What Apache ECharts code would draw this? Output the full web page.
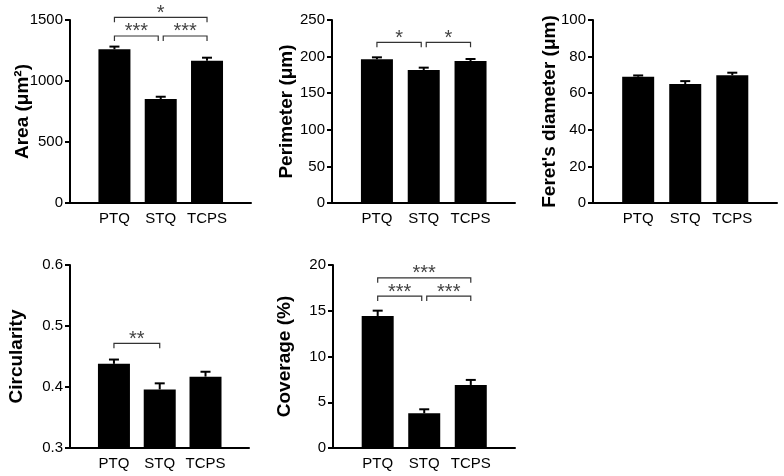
<!DOCTYPE html>
<html><head><meta charset="utf-8">
<script src="https://cdn.jsdelivr.net/npm/echarts@6/dist/echarts.min.js"></script>
<style>html,body{margin:0;padding:0;background:#fff}#c{width:784px;height:476px}</style>
</head><body><div id="c"></div>
<script>
// ---- data ----
const categories = ['PTQ', 'STQ', 'TCPS'];

const areaMean = [1260, 852, 1166];
const areaErr = [22, 19, 25];
const areaTicks = [0, 500, 1000, 1500];
const areaSig = [[1, 3, 1522], [1, 2, 1369], [2, 3, 1369]];
const areaSigLabels = ['*', '***', '***'];

const perimMean = [196.3, 181.7, 194];
const perimErr = [2.7, 3.2, 2.7];
const perimTicks = [0, 50, 100, 150, 200, 250];
const perimSig = [[1, 2, 219.5], [2, 3, 219.5]];
const perimSigLabels = ['*', '*'];

const feretMean = [69, 65, 69.8];
const feretErr = [0.7, 1.6, 1.4];
const feretTicks = [0, 20, 40, 60, 80, 100];
const feretSig = [];
const feretSigLabels = [];

const circMean = [0.438, 0.396, 0.417];
const circErr = [0.007, 0.010, 0.008];
const circTicks = [0.3, 0.4, 0.5, 0.6];
const circSig = [[1, 2, 0.4716]];
const circSigLabels = ['**'];

const covMean = [14.43, 3.79, 6.89];
const covErr = [0.58, 0.44, 0.55];
const covTicks = [0, 5, 10, 15, 20];
const covSig = [[1, 3, 18.6], [1, 2, 16.6], [2, 3, 16.6]];
const covSigLabels = ['***', '***', '***'];

// ---- layout ----
const FONT = '"Liberation Sans", Arial, sans-serif';
const panels = [
  {title: 'Area (μm²)', mean: areaMean, err: areaErr, ticks: areaTicks, sig: areaSig, sigLabels: areaSigLabels, dec: 0,
   grid: {left: 70, top: 20, width: 181, height: 183}, gap: 38},
  {title: 'Perimeter (μm)', mean: perimMean, err: perimErr, ticks: perimTicks, sig: perimSig, sigLabels: perimSigLabels, dec: 0,
   grid: {left: 332, top: 20, width: 183, height: 183}, gap: 36},
  {title: "Feret's diameter (μm)", mean: feretMean, err: feretErr, ticks: feretTicks, sig: feretSig, sigLabels: feretSigLabels, dec: 0,
   grid: {left: 593, top: 20, width: 184, height: 183}, gap: 34},
  {title: 'Circularity', mean: circMean, err: circErr, ticks: circTicks, sig: circSig, sigLabels: circSigLabels, dec: 1,
   grid: {left: 70, top: 265, width: 179, height: 183}, gap: 44},
  {title: 'Coverage (%)', mean: covMean, err: covErr, ticks: covTicks, sig: covSig, sigLabels: covSigLabels, dec: 0,
   grid: {left: 333, top: 265, width: 182, height: 183}, gap: 39}
];

const grids = [], xAxes = [], yAxes = [], series = [];
panels.forEach((p, i) => {
  grids.push(Object.assign({containLabel: false}, p.grid));
  xAxes.push({
    type: 'value', gridIndex: i, min: 0.04, max: 3.95,
    axisLine: {show: true, onZero: false, lineStyle: {color: '#000', width: 2}},
    axisTick: {show: false},
    splitLine: {show: false},
    axisLabel: {
      customValues: categories.map((c, k) => k + 1),
      formatter: v => categories[Math.round(v) - 1] || '',
      color: '#000', fontSize: 15, fontFamily: FONT, margin: 8
    }
  });
  const t = p.ticks;
  yAxes.push({
    type: 'value', gridIndex: i, min: t[0], max: t[t.length - 1], interval: +(t[1] - t[0]).toFixed(6),
    name: p.title, nameLocation: 'middle', nameGap: p.gap, nameRotate: 90, nameMoveOverlap: false,
    nameTextStyle: {fontSize: 19, fontWeight: 'bold', fontFamily: FONT, color: '#000'},
    axisLine: {show: true, lineStyle: {color: '#000', width: 2}},
    axisTick: {show: true, inside: false, length: 5, lineStyle: {color: '#000', width: 2}},
    splitLine: {show: false},
    axisLabel: {color: '#000', fontSize: 15, fontFamily: FONT, margin: 7,
      formatter: v => v.toFixed(p.dec)}
  });
  series.push({
    type: 'bar', xAxisIndex: i, yAxisIndex: i, barWidth: 32,
    itemStyle: {color: '#000'}, silent: true,
    data: p.mean.map((m, k) => [k + 1, m])
  });
  series.push({
    type: 'custom', xAxisIndex: i, yAxisIndex: i, silent: true,
    encode: {x: 0, y: 1},
    data: p.mean.map((m, k) => [k + 1, m, m + p.err[k]]),
    renderItem: (params, api) => {
      const a = api.coord([api.value(0), api.value(1)]);
      const b = api.coord([api.value(0), api.value(2)]);
      const st = {stroke: '#000', lineWidth: 2};
      return {type: 'group', children: [
        {type: 'line', shape: {x1: a[0], y1: a[1], x2: b[0], y2: b[1]}, style: st},
        {type: 'line', shape: {x1: b[0] - 5, y1: b[1], x2: b[0] + 5, y2: b[1]}, style: st}
      ]};
    }
  });
  if (p.sig.length) {
    series.push({
      type: 'custom', xAxisIndex: i, yAxisIndex: i, silent: true, clip: false,
      encode: {x: [0, 1], y: 2},
      data: p.sig,
      renderItem: (params, api) => {
        const x1v = api.value(0), x2v = api.value(1), lv = api.value(2);
        const shares = (xv) => p.sig.some((s, j) => j !== params.dataIndex && s[2] === lv && (s[0] === xv || s[1] === xv));
        const a = api.coord([x1v, lv]);
        const b = api.coord([x2v, lv]);
        const xa = a[0] + (shares(x1v) ? 2.5 : 0);
        const xb = b[0] - (shares(x2v) ? 2.5 : 0);
        const y = a[1];
        const st = {stroke: '#333', lineWidth: 1.2};
        return {type: 'group', children: [
          {type: 'polyline', shape: {points: [[xa, y + 5], [xa, y], [xb, y], [xb, y + 5]]}, style: Object.assign({fill: null}, st)},
          {type: 'text', x: (xa + xb) / 2, y: y - 4,
           style: {text: p.sigLabels[params.dataIndex], fill: '#444', font: '20px ' + FONT, align: 'center', verticalAlign: 'middle'}}
        ]};
      }
    });
  }
});

const chart = echarts.init(document.getElementById('c'), null, {renderer: 'canvas'});
chart.setOption({animation: false, grid: grids, xAxis: xAxes, yAxis: yAxes, series: series});
</script>
</body></html>
